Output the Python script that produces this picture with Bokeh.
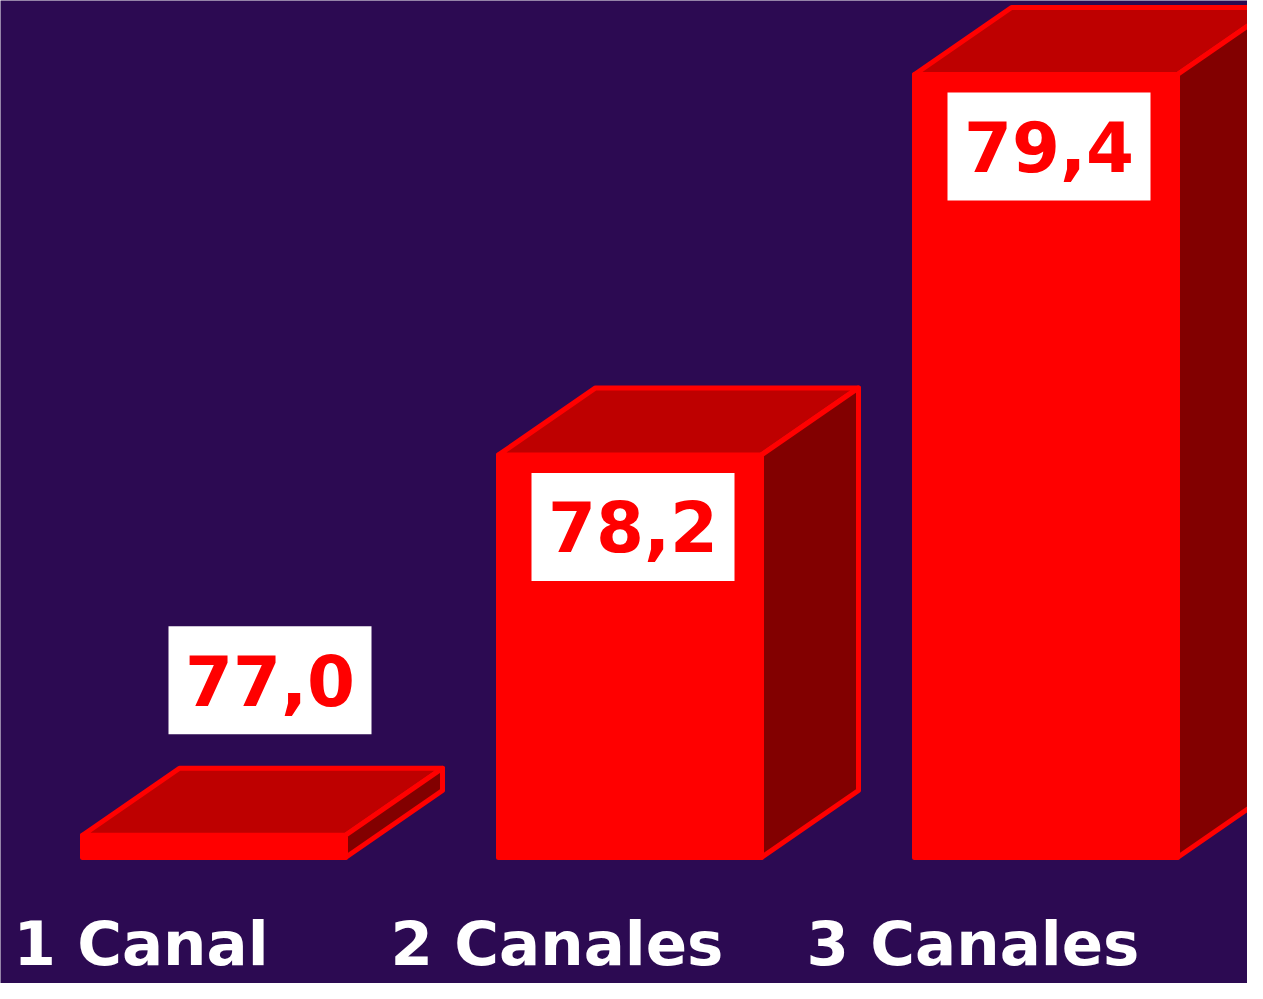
from bokeh.plotting import figure
from bokeh.models import Range1d
from bokeh.embed import file_html
from bokeh.resources import INLINE
from bokeh.core.properties import value

# ---- data ----
categories = ["1 Canal", "2 Canales", "3 Canales"]
values = [77.0, 78.2, 79.4]
value_labels = ["77,0", "78,2", "79,4"]

# ---- layout / scales ----
W, H = 1247, 983
PX_X = 416.0          # pixels per category step
PX_Y = 317.0          # pixels per value unit
base = 76.93          # value at the bars' floor
x0 = -213.5 / PX_X
y0 = base - 126 / PX_Y

BG = "#2C0A52"
p = figure(width=W, height=H,
           x_range=Range1d(x0, x0 + W / PX_X),
           y_range=Range1d(y0, y0 + H / PX_Y),
           output_backend="svg", toolbar_location=None,
           x_axis_location=None, y_axis_location=None,
           min_border=0, background_fill_color=BG, border_fill_color=BG,
           outline_line_color=None)
p.grid.visible = False

bw = 263 / PX_X
dx = 97 / PX_X
dy = 67 / PX_Y

idx = list(range(len(values)))
left = [i - bw / 2 for i in idx]
right = [i + bw / 2 for i in idx]

# front faces
p.quad(left=left, right=right, bottom=[base] * len(idx), top=values,
       fill_color="#FF0000", line_color="#FF0000", line_width=5, line_join="round")
# top faces
p.patches(xs=[[l, l + dx, r + dx, r] for l, r in zip(left, right)],
          ys=[[v, v + dy, v + dy, v] for v in values],
          fill_color="#BE0000", line_color="#FF0000", line_width=5, line_join="round")
# side faces
p.patches(xs=[[r, r + dx, r + dx, r] for r in right],
          ys=[[base, base + dy, v + dy, v] for v in values],
          fill_color="#820000", line_color="#FF0000", line_width=5, line_join="round")

# value label boxes
lx, ly = [], []
for i, v in zip(idx, values):
    if (v - base) * PX_Y > 200:
        lx.append(i + 3 / PX_X)
        ly.append(v - 72 / PX_Y)
    else:
        lx.append(i + 56 / PX_X)
        ly.append(v + dy + 88 / PX_Y)

p.rect(x=lx, y=ly, width=203, height=108, width_units="screen", height_units="screen",
       fill_color="white", line_color=None)
p.text(x=lx, y=ly, text=value_labels, text_align="center", text_baseline="middle",
       text_font=value("DejaVu Sans"), text_font_style="bold", text_font_size="69px",
       text_color="#FF0000")

# category labels
p.text(x=idx, y=[y0 + 40 / PX_Y] * len(idx), text=categories, x_offset=-73,
       text_align="center", text_baseline="middle",
       text_font=value("DejaVu Sans"), text_font_style="bold", text_font_size="61px",
       text_color="white")

open("out.html", "w").write(file_html(p, INLINE))
